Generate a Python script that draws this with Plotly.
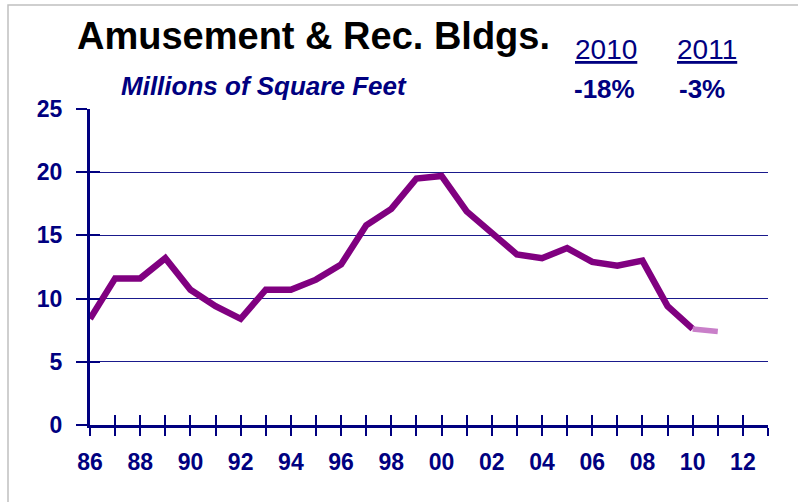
import plotly.graph_objects as go

# ---- data ----
years = list(range(1986, 2011))
sqft = [8.4, 11.6, 11.6, 13.2, 10.7, 9.4, 8.4, 10.7, 10.7, 11.5, 12.7, 15.8,
        17.1, 19.5, 19.7, 16.9, 15.2, 13.5, 13.2, 14.0, 12.9, 12.6, 13.0, 9.4, 7.6]
forecast_years = [2010, 2011]
forecast_sqft = [7.6, 7.4]

x_tickvals = list(range(1986, 2014))
x_ticktext = [("%02d" % (y % 100)) if (y % 2 == 0) else "" for y in x_tickvals]
y_tickvals = [0, 5, 10, 15, 20, 25]

title_text = "Amusement & Rec. Bldgs."
subtitle_text = "Millions of Square Feet"
yr_labels = ["2010", "2011"]
pct_labels = ["-18%", "-3%"]

NAVY = "#000080"
PURPLE = "#800080"
FONT = "Liberation Sans, Arial, sans-serif"

# layout geometry (pixels)
W, H = 798, 502
L, R, T, B = 90, 30, 109, 77
PW, PH = W - L - R, H - T - B


def px(xp):
    return (xp - L) / PW


def py(yp):
    return (H - B - yp) / PH


fig = go.Figure()
fig.add_trace(go.Scatter(x=years, y=sqft, mode="lines",
                         line=dict(color=PURPLE, width=6.5),
                         hoverinfo="skip", showlegend=False))
fig.add_trace(go.Scatter(x=forecast_years, y=forecast_sqft, mode="lines",
                         line=dict(color="#c97fc9", width=5.5),
                         hoverinfo="skip", showlegend=False))
# invisible trace to anchor overlay axes
fig.add_trace(go.Scatter(x=[1986], y=[0], xaxis="x2", yaxis="y2", mode="markers",
                         marker=dict(opacity=0), hoverinfo="skip", showlegend=False))

tickfont = dict(family=FONT, size=23, color=NAVY, weight="bold")

fig.update_layout(
    width=W, height=H,
    margin=dict(l=L, r=R, t=T, b=B, pad=0),
    paper_bgcolor="white", plot_bgcolor="white",
    xaxis=dict(range=[1986, 2013], tickvals=x_tickvals, ticktext=x_ticktext,
               ticks="outside", ticklen=8, tickwidth=2, tickcolor=NAVY,
               showline=True, linecolor=NAVY, linewidth=3,
               showgrid=False, zeroline=False, tickfont=tickfont,
               ticklabelstandoff=6, fixedrange=True),
    xaxis2=dict(range=[1986, 2013], tickvals=x_tickvals, overlaying="x",
                ticks="inside", ticklen=10, tickwidth=2, tickcolor=NAVY,
                showticklabels=False, showline=False, showgrid=False,
                zeroline=False, side="bottom", anchor="y2", fixedrange=True),
    yaxis=dict(range=[0, 25], tickvals=y_tickvals,
               ticks="outside", ticklen=11, tickwidth=2, tickcolor=NAVY,
               showline=True, linecolor=NAVY, linewidth=3,
               showgrid=True, gridcolor="#1a1a8c", gridwidth=1.2,
               zeroline=False, tickfont=tickfont, ticklabelstandoff=9,
               fixedrange=True),
    yaxis2=dict(range=[0, 25], tickvals=y_tickvals, overlaying="y",
                ticks="inside", ticklen=10, tickwidth=2, tickcolor=NAVY,
                showticklabels=False, showline=False, showgrid=False,
                zeroline=False, side="left", anchor="x2", fixedrange=True),
    shapes=[dict(type="rect", xref="paper", yref="paper",
                 x0=px(8), x1=1.3, y0=-0.6, y1=py(5),
                 line=dict(color="#c0c0c0", width=1.5), layer="below")],
)

ann = []
ann.append(dict(text=title_text, x=px(75), y=py(36), xanchor="left", yanchor="middle",
                font=dict(family=FONT, size=38, color="black", weight="bold")))
ann.append(dict(text=subtitle_text, x=px(119), y=py(86), xanchor="left", yanchor="middle",
                font=dict(family=FONT, size=26, color=NAVY, weight="bold", style="italic")))
for lbl, xl in zip(yr_labels, [573, 675]):
    ann.append(dict(text=lbl, x=px(xl), y=py(50), xanchor="left", yanchor="middle",
                    font=dict(family=FONT, size=28, color=NAVY, lineposition="under")))
for lbl, xl in zip(pct_labels, [572, 677]):
    ann.append(dict(text=lbl, x=px(xl), y=py(89), xanchor="left", yanchor="middle",
                    font=dict(family=FONT, size=26, color=NAVY, weight="bold")))
for a in ann:
    a.update(xref="paper", yref="paper", showarrow=False)
fig.update_layout(annotations=ann)

fig.write_html("out.html", config={"displayModeBar": False},
               post_script="document.body.style.margin='0';document.body.style.padding='0';")
